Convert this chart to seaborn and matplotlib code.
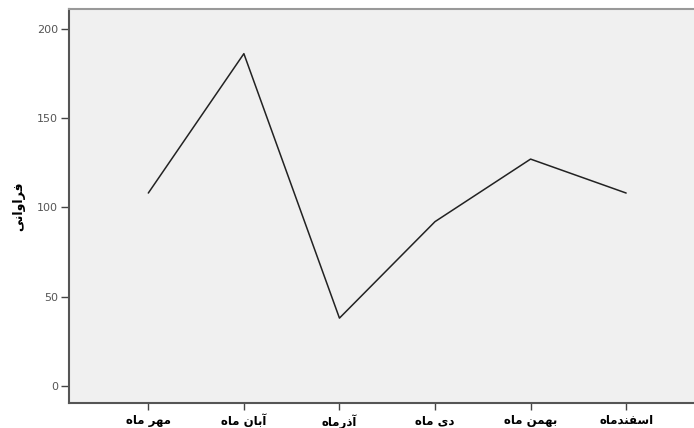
import matplotlib
matplotlib.use('Agg')
import matplotlib.pyplot as plt
import seaborn as sns
import pandas as pd

# Data
months = ['مهر ماه', 'آبان ماه', 'آذرماه', 'دی ماه', 'بهمن ماه', 'اسفندماه']
counts = [108, 186, 38, 92, 127, 108]
y_label = 'فراوانی'
y_ticks = [0, 50, 100, 150, 200]

# matplotlib has no arabic shaping, so map letters to presentation forms
FORMS = {
    'ا': ('\uFE8D', '\uFE8E', None, None),
    'آ': ('\uFE81', '\uFE82', None, None),
    'ر': ('\uFEAD', '\uFEAE', None, None),
    'ذ': ('\uFEAB', '\uFEAC', None, None),
    'د': ('\uFEA9', '\uFEAA', None, None),
    'و': ('\uFEED', '\uFEEE', None, None),
    'ب': ('\uFE8F', '\uFE90', '\uFE91', '\uFE92'),
    'ن': ('\uFEE5', '\uFEE6', '\uFEE7', '\uFEE8'),
    'م': ('\uFEE1', '\uFEE2', '\uFEE3', '\uFEE4'),
    'ه': ('\uFEE9', '\uFEEA', '\uFEEB', '\uFEEC'),
    'س': ('\uFEB1', '\uFEB2', '\uFEB3', '\uFEB4'),
    'ف': ('\uFED1', '\uFED2', '\uFED3', '\uFED4'),
    'ی': ('\uFBFC', '\uFBFD', '\uFBFE', '\uFBFF'),
}


def shape(text):
    out = []
    for i, ch in enumerate(text):
        if ch not in FORMS:
            out.append(ch)
            continue
        prev = text[i - 1] if i > 0 else ''
        nxt = text[i + 1] if i + 1 < len(text) else ''
        join_prev = prev in FORMS and FORMS[prev][2] is not None
        join_next = FORMS[ch][2] is not None and nxt in FORMS
        isol, fina, init, medi = FORMS[ch]
        if join_prev and join_next:
            out.append(medi)
        elif join_prev:
            out.append(fina)
        elif join_next:
            out.append(init)
        else:
            out.append(isol)
    return ''.join(out)[::-1]


df = pd.DataFrame({'month': range(len(months)), 'count': counts})

sns.set_style('white')
plt.rcParams['font.family'] = ['DejaVu Sans']

fig = plt.figure(figsize=(6.94, 4.28), dpi=100)
ax = fig.add_axes([0.0994, 0.0584, 0.9006, 0.9206])
ax.set_facecolor('#f0f0f0')

sns.lineplot(data=df, x='month', y='count', color='#222222', linewidth=1.1, ax=ax)

ax.set_xlim(-0.83, 5.71)
ax.set_ylim(-9.5, 211)
ax.set_xticks(range(len(months)))
ax.set_xticklabels([shape(m) for m in months], fontsize=8.5, fontweight='bold', color='black')
ax.set_yticks(y_ticks)
ax.set_yticklabels([str(v) for v in y_ticks], fontsize=8, color='#555555')
ax.tick_params(axis='y', direction='out', length=6, width=1, color='#444444', pad=2)
ax.tick_params(axis='x', direction='out', length=5, width=1, color='#444444', pad=3)
ax.tick_params(axis='both', bottom=True, left=True)

ax.set_xlabel('')
ax.set_ylabel(shape(y_label), fontsize=9, fontweight='bold', color='black', labelpad=8)

for side in ['left', 'bottom']:
    ax.spines[side].set_color('#555555')
    ax.spines[side].set_linewidth(1.5)
ax.spines['top'].set_color('#999999')
ax.spines['top'].set_linewidth(1.5)
ax.spines['right'].set_visible(False)

fig.savefig('out.png', dpi=100, facecolor='white')
